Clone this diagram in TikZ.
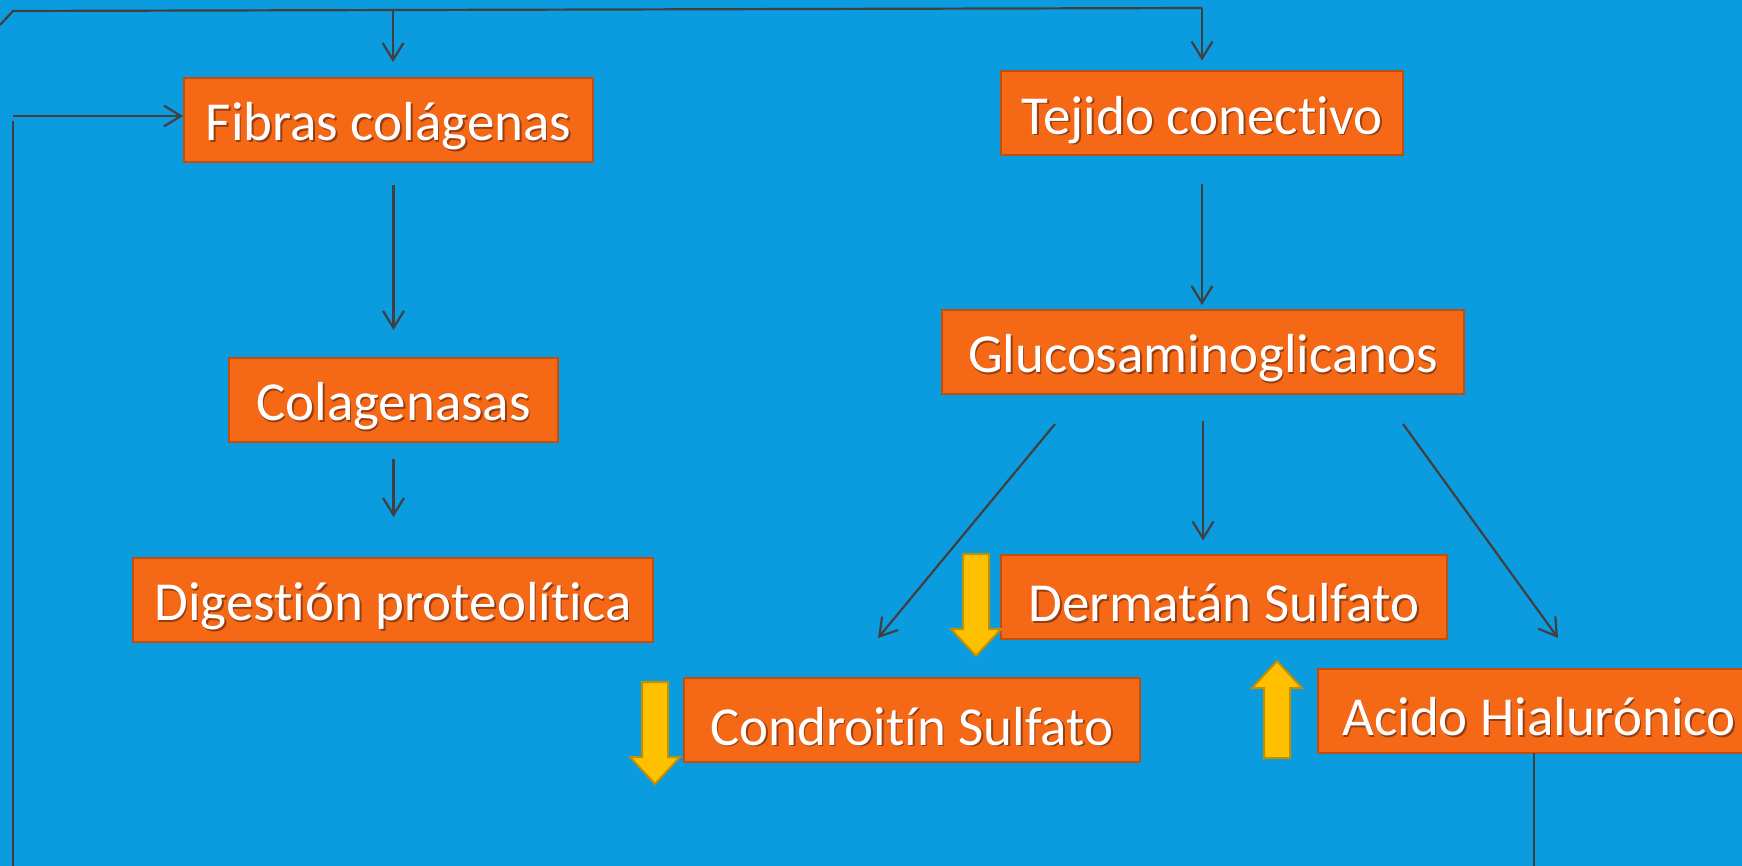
\documentclass[tikz,border=0pt]{standalone}
\usepackage{fontspec}
\setmainfont{Carlito}[Ligatures={NoCommon}]
\usepackage{tikz}
\usetikzlibrary{arrows.meta,positioning}

\definecolor{BgBlue}{RGB}{11,155,223}
\definecolor{BoxFill}{RGB}{245,104,22}
\definecolor{BoxLine}{RGB}{192,79,15}
\definecolor{LineGray}{RGB}{64,64,64}
\definecolor{ArrFill}{RGB}{255,192,0}
\definecolor{ArrLine}{RGB}{191,144,0}
\definecolor{ShadowC}{RGB}{150,62,18}

\newcommand{\shad}[1]{\raisebox{-7pt}[\height][\depth]{\makebox[0pt][l]{\hspace{1.6pt}\raisebox{-1.6pt}{\textcolor{ShadowC}{#1}}}#1}}

\begin{document}
\begin{tikzpicture}[x=1pt, y=-1pt]
			\tikzstyle{Box}		= [rectangle, draw=BoxLine, fill=BoxFill, line width=2pt, minimum height=84pt, inner sep=0pt, text=white, font=\fontsize{55}{62}\selectfont]
			\tikzstyle{Conn}	= [draw=LineGray, line width=2.2pt]
			\tikzstyle{Arr}		= [Conn, -{Straight Barb[length=17pt, width=21pt, line width=2.2pt]}]
			\tikzstyle{YArrow}	= [fill=ArrFill, draw=ArrLine, line width=2pt, line join=miter]

			\fill[BgBlue] (0,0) rectangle (1742,866);
			\useasboundingbox (0,0) rectangle (1742,866);

			% boxes
			\node (fibras)   at (388.5,120)  [Box, minimum width=409pt] {\shad{Fibras colágenas}};
			\node (tejido)   at (1202,113.5) [Box, minimum width=402pt] {\shad{Tejido conectivo}};
			\node (gluco)    at (1203,352)   [Box, minimum width=522pt] {\shad{Glucosaminoglicanos}};
			\node (colag)    at (393.5,400)  [Box, minimum width=329pt] {\shad{Colagenasas}};
			\node (digest)   at (393,600)    [Box, minimum width=520pt] {\shad{Digestión proteolítica}};
			\node (dermatan) at (1224,596.5) [Box, minimum width=446pt] {\shad{Dermatán Sulfato}};
			\node (condro)   at (912,720)    [Box, minimum width=456pt] {\shad{Condroitín Sulfato}};
			\node (acido)    at (1539,710.5) [Box, minimum width=442pt] {\shad{Acido Hialurónico}};

			% free ends of the connectors
			\coordinate (c0) at (0,25);
			\coordinate (c1) at (13,11);
			\coordinate (c2) at (1202,8);
			\coordinate (j1) at (393,10);
			\coordinate (l0) at (13,116);
			\coordinate (l1) at (13,121);
			\coordinate (l2) at (13,866);
			\coordinate (gl) at (1055,424);
			\coordinate (gr) at (1403,424);
			\coordinate (cs) at (878,638);
			\coordinate (ah) at (1558,638);
			\coordinate (a0) at (1534,753);
			\coordinate (a1) at (1534,866);

			\draw [Conn] (c0) -- (c1) -- (c2);
			\draw [Arr, shorten >=15pt] (j1) -- (j1 |- fibras.north);
			\draw [Arr, shorten >=10pt] (c2) -- (tejido.north);
			\draw [Arr] (l0) -- (l0 -| fibras.west);
			\draw [Conn] (l1) -- (l2);
			\draw [Conn] (a0) -- (a1);

			\draw [Arr, shorten <=22pt, shorten >=27pt] (fibras.south -| colag.north) -- (colag.north);
			\draw [Arr, shorten <=16pt, shorten >=40pt] (colag.south) -- (colag.south |- digest.north);
			\draw [Arr, shorten <=28pt, shorten >=4pt] (tejido.south) -- (tejido.south |- gluco.north);
			\draw [Arr, shorten <=26pt, shorten >=13pt] (gluco.south) -- (gluco.south |- dermatan.north);
			\foreach \a/\b in {gl/cs, gr/ah}
				\draw [Arr] (\a) -- (\b);

			% yellow block arrows
			\foreach \cx/\ta/\hb/\tb in {976/554/629/656, 655/682/757/784, 1277/758/688/661}
				\draw [YArrow] (\cx-13,\ta) -- (\cx+13,\ta) -- (\cx+13,\hb) -- (\cx+25,\hb) -- (\cx,\tb) -- (\cx-25,\hb) -- (\cx-13,\hb) -- cycle;
		\end{tikzpicture}
\end{document}
